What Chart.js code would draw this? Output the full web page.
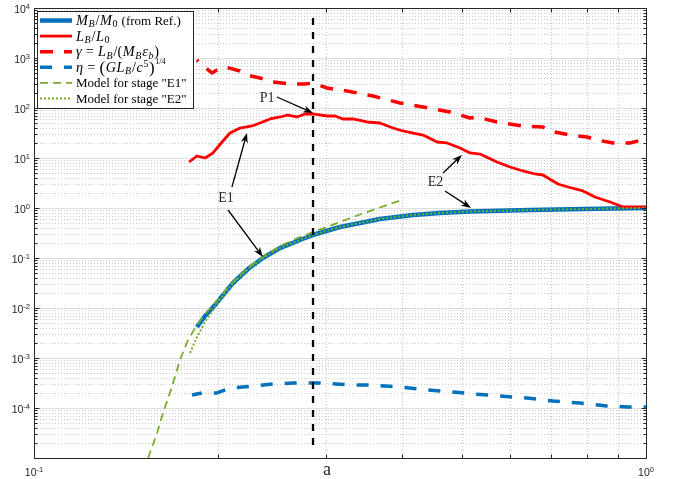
<!DOCTYPE html>
<html>
<head>
<meta charset="utf-8">
<script src="https://cdn.jsdelivr.net/npm/chart.js@4.4.1/dist/chart.umd.min.js"></script>
<style>
  html, body { margin: 0; padding: 0; background: #fff; }
  canvas { display: block; }
</style>
</head>
<body>
<canvas id="c" width="681" height="479"></canvas>
<script>
// ---- series: M_B/M_0 (from Ref.) ----
const massX = [0.1846,0.1903,0.1976,0.2044,0.2114,0.2237,0.2366,0.2523,0.2720,0.2889,0.3162,0.3410,0.3675,0.4163,0.4606,0.5157,0.6464,0.8833,1.0];
const massY = [0.00417,0.00692,0.0115,0.0191,0.0316,0.0603,0.100,0.158,0.229,0.302,0.417,0.501,0.603,0.724,0.794,0.851,0.912,0.977,1.0];

// ---- series: L_B/L_0 ----
const lumX = [0.1792,0.1846,0.1903,0.1961,0.2029,0.2091,0.2171,0.2271,0.2340,0.2430,0.2523,0.2600,0.2689,0.2772,0.2857,0.3012,0.3103,0.3197,0.3320,0.3500,0.3675,0.3860,0.4008,0.4163,0.4322,0.4556,0.4730,0.4967,0.5157,0.5356,0.5708,0.5995,0.6295,0.6585,0.6787,0.7180,0.7455,0.7889,0.8254,0.8734,0.9171,1.0];
const lumY = [8.32,10.96,10.0,12.6,20.9,31.6,39.8,43.7,50.1,60.3,66.1,72.4,66.1,75.9,75.9,69.2,69.2,60.3,60.3,52.5,50.1,39.8,34.7,31.6,28.8,20.9,20.0,15.8,12.6,12.0,8.32,6.61,5.50,4.79,4.57,3.02,2.63,2.19,1.66,1.32,1.05,1.05];

// ---- series: gamma = L_B/(M_B eps_b) ----
const gammaX = [0.1846,0.1910,0.1953,0.1991,0.2052,0.2171,0.2228,0.2340,0.2458,0.2620,0.2772,0.2857,0.3012,0.3246,0.3580,0.3963,0.4322,0.4783,0.5157,0.5296,0.5708,0.6295,0.6787,0.6967,0.7512,0.8009,0.8316,0.8833,0.9417,1.0];
const gammaY = [912,631,501,575,661,550,457,398,331,302,302,316,251,219,174,126,105,83.2,63.1,66.1,52.5,43.7,41.7,34.7,28.8,26.3,22.9,20.0,20.0,24.0];

// ---- series: eta = (G L_B / c^5)^(1/4) ----
const etaX = [0.1812,0.1882,0.1991,0.2091,0.2279,0.2458,0.2650,0.2933,0.3320,0.3540,0.3963,0.4387,0.4838,0.5216,0.5773,0.6391,0.7047,0.7800,0.8636,0.9312,1.0];
const etaY = [1.82e-4,2.0e-4,2.0e-4,2.51e-4,2.75e-4,3.02e-4,3.16e-4,3.16e-4,2.88e-4,2.88e-4,2.63e-4,2.29e-4,2.09e-4,1.91e-4,1.74e-4,1.58e-4,1.38e-4,1.26e-4,1.10e-4,1.05e-4,1.05e-4];

// ---- model for stage "E1" ----
const modelE1X = [0.1536,0.1589,0.1625,0.1680,0.1732,0.1785,0.1846,0.1903,0.1976,0.2044,0.2114,0.2237,0.2366,0.2523,0.2720,0.2889,0.3162,0.3410,0.3675,0.4009];
const modelE1Y = [1e-5,3.16e-5,7.94e-5,2.63e-4,9.12e-4,2.29e-3,4.57e-3,7.59e-3,0.0126,0.0209,0.0331,0.0631,0.105,0.174,0.263,0.347,0.525,0.741,1.023,1.479];

// ---- model for stage "E2" ----
const modelE2X = [0.1799,0.1846,0.1903,0.1976,0.2044,0.2114,0.2237,0.2366,0.2523,0.2720,0.2889,0.3162,0.3410,0.3675,0.4163,0.4606,0.5157,0.6464,0.8833,1.0];
const modelE2Y = [0.00126,0.00263,0.00525,0.0105,0.0191,0.0316,0.0603,0.100,0.158,0.229,0.302,0.417,0.501,0.603,0.724,0.794,0.851,0.912,0.977,1.0];

// ---- vertical marker at the luminosity peak ----
const markerX = [0.2857, 0.2857];
const markerY = [6310, 1.32e-5];

// ---- axes ----
const xRange = [0.1, 1];
const yRange = [1e-5, 1e4];
const xMinor = [0.2,0.3,0.4,0.5,0.6,0.7,0.8,0.9];
const yDecades = [1e-5,1e-4,1e-3,1e-2,1e-1,1,10,100,1e3,1e4];
const yTickValues = [1e-4,1e-3,1e-2,1e-1,1,10,100,1e3,1e4];
const yTickExps = ['-4','-3','-2','-1','0','1','2','3','4'];
const xTickValues = [0.1, 0.3, 1];
const xTickBases = ['10', 'a', '10'];
const xTickExps = ['-1', '', '0'];

// ---- legend text (rich: [text, style]; i = italic math, m = upright math, _ = subscript, ^ = superscript, f = small raised fraction, L = large) ----
const seriesNames = ['M_B/M_0 (from Ref.)', 'L_B/L_0', 'γ = L_B/(M_B ε_b)', 'η = (GL_B/c^5)^{1/4}', 'Model for stage "E1"', 'Model for stage "E2"'];
const legendRich = [
  [['M','i'],['B','i_'],['/','m'],['M','i'],['0','_'],[' (from Ref.)','']],
  [['L','i'],['B','i_'],['/','m'],['L','i'],['0','_']],
  [['γ','i'],[' = ','m'],['L','i'],['B','i_'],['/(','m'],['M','i'],['B','i_'],['ε','i'],['b','i_'],[')','m']],
  [['η','i'],[' = ','m'],['(','L'],['G','i'],['L','i'],['B','i_'],['/','m'],['c','i'],['5','^'],[')','L'],['1/4','f']],
  [['Model for stage "E1"','']],
  [['Model for stage "E2"','']]
];

// ---- annotations (data coordinates) ----
const noteText = ['P1', 'E1', 'E2'];
const noteAt = [[0.2403, 158], [0.2059, 1.55], [0.4529, 3.24]];
const arrowFrom = [[0.2494, 166], [0.2106, 2.63], [0.2075, 0.912], [0.4660, 5.01], [0.4694, 2.19]];
const arrowTo   = [[0.2857, 79.4], [0.2228, 31.6], [0.2366, 0.105], [0.5003, 11.5], [0.5176, 1.0]];

const SERIF = '"Liberation Serif", "Times New Roman", serif';
const SANS = '"Liberation Sans", Arial, Helvetica, sans-serif';
const AXIS = '#262626';

const pts = (xs, ys) => xs.map((x, i) => ({ x, y: ys[i] }));

// Mixed roman / math text: math glyphs are set a little larger and looser than the roman text.
function drawRich(ctx, segs, x, y, size) {
  const math = size * 1.1;
  for (const [t, s] of segs) {
    let fs = size, dy = 0, after = 0;
    if (s.includes('i') || s.includes('m')) { fs = math; after = 0.6; }
    if (s.includes('_')) { fs = math * 0.7; dy = size * 0.18; after = 0.8; }
    if (s.includes('^')) { fs = math * 0.7; dy = -size * 0.4; after = 0.5; }
    if (s.includes('f')) { fs = size * 0.62; dy = -size * 0.58; after = 0; }
    if (s.includes('L')) { fs = size * 1.3; dy = size * 0.1; after = 0.5; }
    ctx.font = (s.includes('i') ? 'italic ' : '') + fs.toFixed(1) + 'px ' + SERIF;
    ctx.fillText(t, x, y + dy);
    x += ctx.measureText(t).width + after;
  }
}

function drawArrow(ctx, x0, y0, x1, y1) {
  const a = Math.atan2(y1 - y0, x1 - x0), c = Math.cos(a), s = Math.sin(a);
  const L = 10, W = 3.6, N = 7;
  ctx.beginPath();
  ctx.moveTo(x0, y0);
  ctx.lineTo(x1 - N * c, y1 - N * s);
  ctx.stroke();
  ctx.beginPath();
  ctx.moveTo(x1, y1);
  ctx.lineTo(x1 - L * c + W * s, y1 - L * s - W * c);
  ctx.lineTo(x1 - N * c, y1 - N * s);
  ctx.lineTo(x1 - L * c - W * s, y1 - L * s + W * c);
  ctx.closePath();
  ctx.fill();
}

function minorValues() {
  const out = [];
  for (let i = 0; i < yDecades.length - 1; i++)
    for (let k = 2; k <= 9; k++) out.push(k * yDecades[i]);
  return out;
}

const frame = {
  id: 'frame',
  beforeDatasetsDraw(chart) {
    const { ctx, chartArea: a, scales: { x, y } } = chart;
    ctx.save();
    ctx.lineWidth = 1;
    // dotted minor grid
    ctx.strokeStyle = 'rgba(38,38,38,0.25)';
    ctx.setLineDash([1, 2]);
    ctx.beginPath();
    for (const v of minorValues()) {
      const py = Math.round(y.getPixelForValue(v)) + 0.5;
      ctx.moveTo(a.left, py); ctx.lineTo(a.right, py);
    }
    for (const v of xMinor) {
      const px = Math.round(x.getPixelForValue(v)) + 0.5;
      ctx.moveTo(px, a.top); ctx.lineTo(px, a.bottom);
    }
    ctx.stroke();
    // solid major grid
    ctx.setLineDash([]);
    ctx.strokeStyle = 'rgba(38,38,38,0.15)';
    ctx.beginPath();
    for (const v of yDecades) {
      const py = Math.round(y.getPixelForValue(v)) + 0.5;
      ctx.moveTo(a.left, py); ctx.lineTo(a.right, py);
    }
    ctx.stroke();
    ctx.restore();
  },
  afterDatasetsDraw(chart) {
    const { ctx, chartArea: a, scales: { x, y } } = chart;
    const ds = chart.data.datasets;
    ctx.save();

    // axes box with inward ticks
    const L = Math.floor(a.left) + 0.5, R = Math.floor(a.right) + 0.5;
    const T = Math.floor(a.top) + 0.5, B = Math.floor(a.bottom) + 0.5;
    ctx.strokeStyle = AXIS; ctx.lineWidth = 1; ctx.setLineDash([]);
    ctx.strokeRect(L, T, R - L, B - T);
    ctx.beginPath();
    for (const v of yDecades) {
      const py = Math.round(y.getPixelForValue(v)) + 0.5;
      ctx.moveTo(L, py); ctx.lineTo(L + 5, py);
      ctx.moveTo(R, py); ctx.lineTo(R - 5, py);
    }
    for (const v of minorValues()) {
      const py = Math.round(y.getPixelForValue(v)) + 0.5;
      ctx.moveTo(L, py); ctx.lineTo(L + 3, py);
      ctx.moveTo(R, py); ctx.lineTo(R - 3, py);
    }
    for (const v of xMinor) {
      const px = Math.round(x.getPixelForValue(v)) + 0.5;
      ctx.moveTo(px, B); ctx.lineTo(px, B - 4);
      ctx.moveTo(px, T); ctx.lineTo(px, T + 4);
    }
    ctx.stroke();

    // tick labels
    ctx.fillStyle = AXIS;
    ctx.textBaseline = 'alphabetic';
    ctx.textAlign = 'left';
    yTickValues.forEach((v, i) => {
      const py = y.getPixelForValue(v);
      ctx.font = '10.5px ' + SANS;
      const wb = ctx.measureText('10').width;
      ctx.font = '7.5px ' + SANS;
      const we = ctx.measureText(yTickExps[i]).width;
      const x0 = a.left - 4 - wb - we;
      ctx.font = '10.5px ' + SANS;
      ctx.fillText('10', x0, py + 4.5);
      ctx.font = '7.5px ' + SANS;
      ctx.fillText(yTickExps[i], x0 + wb, py + 0.5);
    });
    xTickValues.forEach((v, i) => {
      const px = x.getPixelForValue(v);
      if (!xTickExps[i]) {
        ctx.font = '18px ' + SERIF;
        ctx.textAlign = 'center';
        ctx.fillText(xTickBases[i], px + 1, a.bottom + 17);
        ctx.textAlign = 'left';
        return;
      }
      ctx.font = '10.5px ' + SANS;
      const wb = ctx.measureText(xTickBases[i]).width;
      ctx.font = '7.5px ' + SANS;
      const we = ctx.measureText(xTickExps[i]).width;
      const x0 = px - (wb + we) / 2;
      ctx.font = '10.5px ' + SANS;
      ctx.fillText(xTickBases[i], x0, a.bottom + 18);
      ctx.font = '7.5px ' + SANS;
      ctx.fillText(xTickExps[i], x0 + wb, a.bottom + 13.5);
    });

    // annotations
    ctx.strokeStyle = '#000'; ctx.fillStyle = '#000'; ctx.lineWidth = 1.3;
    arrowFrom.forEach((f, i) => {
      const t = arrowTo[i];
      drawArrow(ctx, x.getPixelForValue(f[0]), y.getPixelForValue(f[1]),
                x.getPixelForValue(t[0]), y.getPixelForValue(t[1]));
    });
    ctx.fillStyle = AXIS;
    ctx.font = '14px ' + SERIF;
    ctx.textAlign = 'center'; ctx.textBaseline = 'middle';
    noteText.forEach((t, i) => {
      ctx.fillText(t, x.getPixelForValue(noteAt[i][0]), y.getPixelForValue(noteAt[i][1]));
    });

    // legend
    const bx = 37.5, by = 11.5, bw = 156, bh = 97;
    ctx.fillStyle = '#fff';
    ctx.fillRect(bx, by, bw, bh);
    ctx.strokeStyle = AXIS; ctx.lineWidth = 1;
    ctx.strokeRect(bx, by, bw, bh);
    ctx.textAlign = 'left'; ctx.textBaseline = 'alphabetic';
    legendRich.forEach((segs, i) => {
      const d = ds[i];
      const cy = 20.5 + i * 15.6;
      ctx.save();
      ctx.strokeStyle = d.borderColor;
      ctx.lineWidth = d.borderWidth;
      ctx.setLineDash(d.borderDash || []);
      ctx.beginPath();
      ctx.moveTo(40, cy); ctx.lineTo(72, cy);
      ctx.stroke();
      ctx.restore();
      ctx.fillStyle = '#000';
      drawRich(ctx, segs, 76, cy + 4.5, 13);
    });
    ctx.restore();
  }
};

const line = (label, xs, ys, color, width, dash, offset, order) => ({
  label, data: pts(xs, ys), borderColor: color, backgroundColor: color,
  borderWidth: width, borderDash: dash, borderDashOffset: offset, order, fill: false,
  pointRadius: 0, tension: 0, borderCapStyle: 'butt', borderJoinStyle: 'round'
});

new Chart(document.getElementById('c'), {
  type: 'line',
  data: {
    datasets: [
      line(seriesNames[0], massX, massY, '#0072BD', 4.5, [], 0, 6),
      line(seriesNames[1], lumX, lumY, '#FF0000', 2.8, [], 0, 5),
      line(seriesNames[2], gammaX, gammaY, '#FF0000', 3.5, [13, 11], 11, 4),
      line(seriesNames[3], etaX, etaY, '#0072BD', 3.5, [12, 12], 2, 3),
      line(seriesNames[4], modelE1X, modelE1Y, '#77AC30', 1.8, [8, 5], 0, 2),
      line(seriesNames[5], modelE2X, modelE2Y, '#77AC30', 2, [2, 2], 0, 1),
      line('P1', markerX, markerY, '#000000', 2.3, [7, 7], 0, 0)
    ]
  },
  options: {
    responsive: false,
    animation: false,
    devicePixelRatio: 1,
    layout: { padding: { left: 34, right: 35, top: 8, bottom: 21 } },
    plugins: { legend: { display: false }, tooltip: { enabled: false } },
    scales: {
      x: { type: 'logarithmic', min: xRange[0], max: xRange[1], display: false },
      y: { type: 'logarithmic', min: yRange[0], max: yRange[1], display: false }
    }
  },
  plugins: [frame]
});
</script>
</body>
</html>
